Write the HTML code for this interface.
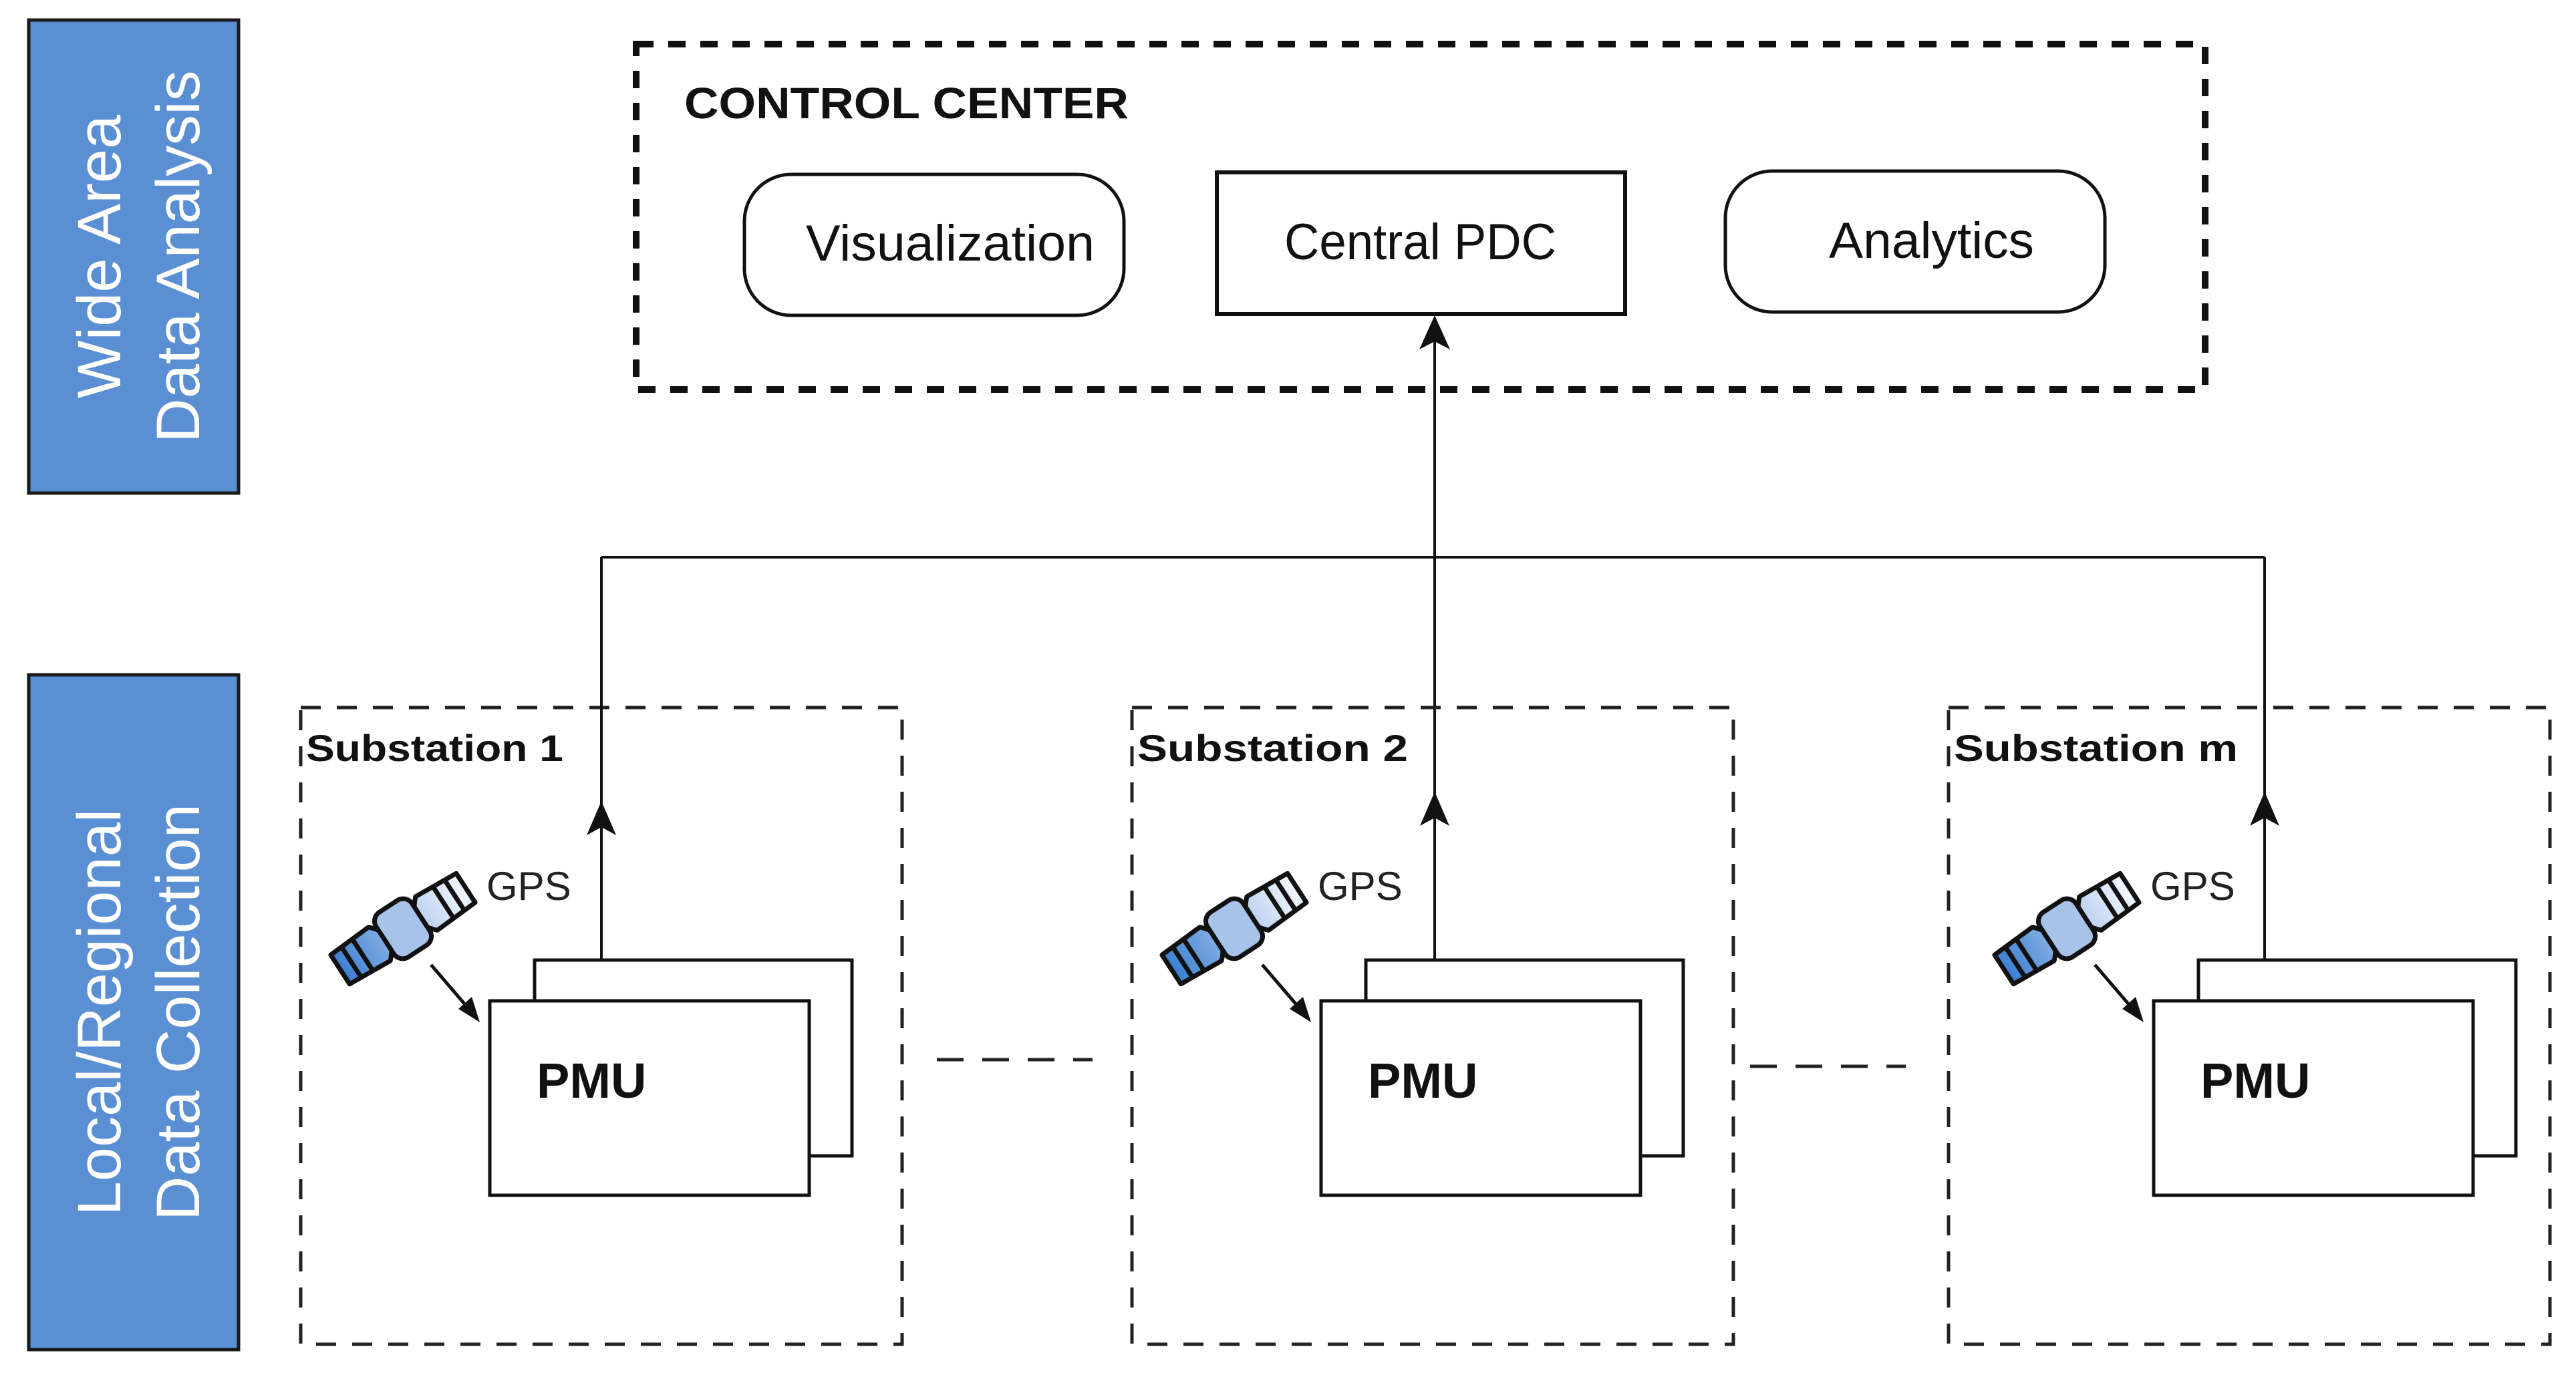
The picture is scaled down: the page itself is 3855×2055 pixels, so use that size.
<!DOCTYPE html>
<html><head><meta charset="utf-8"><style>html,body{margin:0;padding:0;background:#fff}svg{display:block}</style></head>
<body>
<svg width="3855" height="2055" viewBox="0 0 3855 2055" xmlns="http://www.w3.org/2000/svg" font-family="Liberation Sans, sans-serif">
<defs>
<linearGradient id="sgL" x1="0" y1="0" x2="1" y2="0"><stop offset="0" stop-color="#3b7fd2"/><stop offset="1" stop-color="#86afe4"/></linearGradient>
<linearGradient id="sgR" x1="0" y1="0" x2="1" y2="0"><stop offset="0" stop-color="#b9d0f0"/><stop offset="1" stop-color="#f4f8fe"/></linearGradient>
<g id="sat">
<path d="M-112,-26 L-42,-30 Q-26,-14 -26,0 Q-26,14 -42,30 L-112,26 Z" fill="url(#sgL)" stroke="#111" stroke-width="7" stroke-linejoin="round"/>
<path d="M112,-26 L42,-30 Q26,-14 26,0 Q26,14 42,30 L112,26 Z" fill="url(#sgR)" stroke="#111" stroke-width="7" stroke-linejoin="round"/>
<rect x="-32" y="-40" width="64" height="80" rx="16" fill="#a7c3ea" stroke="#111" stroke-width="7"/>
<line x1="-92" y1="-27" x2="-92" y2="27" stroke="#111" stroke-width="7"/>
<line x1="-72" y1="-28" x2="-72" y2="28" stroke="#111" stroke-width="7"/>
<line x1="72" y1="-28" x2="72" y2="28" stroke="#111" stroke-width="7"/>
<line x1="92" y1="-27" x2="92" y2="27" stroke="#111" stroke-width="7"/>
</g>
<g id="box">
<rect x="450" y="1059" width="900" height="953" fill="none" stroke="#222" stroke-width="5" stroke-dasharray="30,24"/>
</g>
<g id="content">
<rect x="800" y="1437" width="475" height="293" fill="#fff" stroke="#111" stroke-width="5"/>
<rect x="733" y="1498" width="478" height="291" fill="#fff" stroke="#111" stroke-width="5"/>
<text x="803" y="1643" font-size="74" font-weight="bold" fill="#111">PMU</text>
<text x="728" y="1347" font-size="60" fill="#222">GPS</text>
<use href="#sat" transform="translate(603,1390) rotate(-33)"/>
<line x1="645" y1="1444" x2="705" y2="1514" stroke="#111" stroke-width="5"/>
<polygon points="718,1530 686,1510 706,1492" fill="#111"/>
</g>
</defs>

<rect x="43" y="30" width="314" height="708" fill="#5b8fd4" stroke="#1a1a1a" stroke-width="5"/>
<text transform="translate(180,384) rotate(-90)" font-size="92" fill="#fff" text-anchor="middle">Wide Area</text>
<text transform="translate(298,384) rotate(-90)" font-size="92" fill="#fff" text-anchor="middle">Data Analysis</text>
<rect x="43" y="1010" width="314" height="1010" fill="#5b8fd4" stroke="#1a1a1a" stroke-width="5"/>
<text transform="translate(180,1515) rotate(-90)" font-size="92" fill="#fff" text-anchor="middle">Local/Regional</text>
<text transform="translate(298,1515) rotate(-90)" font-size="92" fill="#fff" text-anchor="middle">Data Collection</text>

<rect x="952" y="66" width="2348" height="517" fill="none" stroke="#111" stroke-width="10" stroke-dasharray="26,22"/>
<text x="1024" y="177" font-size="66" font-weight="bold" fill="#111" textLength="665" lengthAdjust="spacingAndGlyphs">CONTROL CENTER</text>
<rect x="1114" y="261" width="568" height="211" rx="70" fill="#fff" stroke="#111" stroke-width="5"/>
<text x="1206" y="390" font-size="76" fill="#111" textLength="432" lengthAdjust="spacingAndGlyphs">Visualization</text>
<rect x="1821" y="258" width="611" height="212" fill="#fff" stroke="#111" stroke-width="6"/>
<text x="1922" y="388" font-size="76" fill="#111" textLength="407" lengthAdjust="spacingAndGlyphs">Central PDC</text>
<rect x="2582" y="256" width="568" height="211" rx="70" fill="#fff" stroke="#111" stroke-width="5"/>
<text x="2737" y="386" font-size="76" fill="#111" textLength="307" lengthAdjust="spacingAndGlyphs">Analytics</text>

<line x1="900" y1="834" x2="3389" y2="834" stroke="#111" stroke-width="4"/>
<line x1="2147" y1="1437" x2="2147" y2="490" stroke="#111" stroke-width="4"/>
<polygon points="2147,472 2124,523 2147,511 2170,523" fill="#111"/>

<use href="#box"/>
<use href="#box" transform="translate(1244,0)"/>
<use href="#box" transform="translate(2466,0)"/>
<use href="#content"/>
<use href="#content" transform="translate(1244,0)"/>
<use href="#content" transform="translate(2490,0)"/>

<text x="458" y="1139" font-size="56" font-weight="bold" fill="#111" textLength="385" lengthAdjust="spacingAndGlyphs">Substation 1</text>
<text x="1702" y="1139" font-size="56" font-weight="bold" fill="#111" textLength="405" lengthAdjust="spacingAndGlyphs">Substation 2</text>
<text x="2924" y="1139" font-size="56" font-weight="bold" fill="#111" textLength="425" lengthAdjust="spacingAndGlyphs">Substation m</text>

<line x1="900" y1="834" x2="900" y2="1437" stroke="#111" stroke-width="4"/>
<polygon points="900,1199 878,1250 900,1238 922,1250" fill="#111"/>
<polygon points="2147,1185 2125,1236 2147,1224 2169,1236" fill="#111"/>
<line x1="3389" y1="834" x2="3389" y2="1437" stroke="#111" stroke-width="4"/>
<polygon points="3389,1185 3367,1236 3389,1224 3411,1236" fill="#111"/>

<line x1="1402" y1="1586" x2="1635" y2="1586" stroke="#222" stroke-width="5" stroke-dasharray="40,28"/>
<line x1="2619" y1="1596" x2="2852" y2="1596" stroke="#222" stroke-width="5" stroke-dasharray="40,28"/>
</svg>
</body></html>
